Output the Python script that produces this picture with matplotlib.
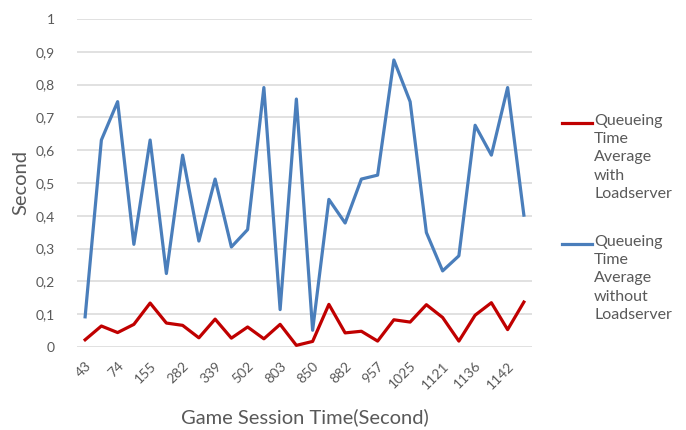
import matplotlib
matplotlib.use("Agg")
import matplotlib.pyplot as plt
from matplotlib.lines import Line2D
import numpy as np

plt.rcParams['font.family'] = ['Lato', 'DejaVu Sans']

# Shown category labels (every other session is labelled on the axis)
shown_labels = ["43", "74", "155", "282", "339", "502", "803", "850",
                "882", "957", "1025", "1121", "1136", "1142"]

with_loadserver = [0.022, 0.064, 0.044, 0.069, 0.134, 0.073, 0.066, 0.028,
                   0.085, 0.027, 0.061, 0.025, 0.069, 0.005, 0.017, 0.130,
                   0.043, 0.048, 0.018, 0.083, 0.076, 0.129, 0.090, 0.018,
                   0.097, 0.135, 0.053, 0.137]

without_loadserver = [0.092, 0.631, 0.748, 0.313, 0.631, 0.224, 0.585, 0.323,
                      0.512, 0.305, 0.358, 0.791, 0.114, 0.756, 0.051, 0.450,
                      0.378, 0.512, 0.524, 0.875, 0.748, 0.349, 0.232, 0.278,
                      0.676, 0.585, 0.791, 0.402]

series_names = ["Queueing\nTime\nAverage\nwith\nLoadserver",
                "Queueing\nTime\nAverage\nwithout\nLoadserver"]

y_ticks = [0, 0.1, 0.2, 0.3, 0.4, 0.5, 0.6, 0.7, 0.8, 0.9, 1]
y_tick_labels = ["0", "0,1", "0,2", "0,3", "0,4", "0,5", "0,6", "0,7", "0,8", "0,9", "1"]

grey = "#595959"
red = "#c00000"
blue = "#4a7ebb"

W, H = 686, 430
fig = plt.figure(figsize=(W / 100, H / 100), dpi=100)
ax = fig.add_axes([77 / W, (H - 347) / H, 455 / W, 328 / H])

x = np.arange(len(with_loadserver))
ax.plot(x, with_loadserver, color=red, lw=2.3)
ax.plot(x, without_loadserver, color=blue, lw=2.3)

ax.set_xlim(-0.5, len(x) - 0.5)
ax.set_ylim(0, 1)
ax.set_yticks(y_ticks)
ax.set_yticklabels(y_tick_labels)
ax.set_xticks(x[::2])
ax.set_xticklabels(shown_labels, rotation=45, ha='right', rotation_mode='anchor')

ax.yaxis.grid(True, color="#d9d9d9", lw=1.1)
ax.set_axisbelow(True)
for s in ax.spines.values():
    s.set_visible(False)
ax.tick_params(axis='both', length=0, colors=grey, labelsize=10)
ax.tick_params(axis='y', pad=16)
ax.tick_params(axis='x', pad=9)

ax.set_ylabel("Second", color=grey, fontsize=14.5)
ax.yaxis.label.set_va('center')
ax.yaxis.set_label_coords((21 - 77) / 455, 0.5)
ax.set_xlabel("Game Session Time(Second)", color=grey, fontsize=14.5)
ax.xaxis.label.set_va('center')
ax.xaxis.set_label_coords((305 - 77) / 455, (347 - 417) / 328)

# Legend drawn manually: handle aligned with the first text line
for name, col, yc in [(series_names[0], red, 123), (series_names[1], blue, 244)]:
    fig.add_artist(Line2D([562 / W, 592 / W], [1 - yc / H, 1 - yc / H],
                          transform=fig.transFigure, color=col, lw=2.3))
    fig.text(594 / W, 1 - (yc - 9) / H, name, color=grey, fontsize=11.5,
             ha='left', va='top', linespacing=1.38)

fig.savefig("out.png", dpi=100)
